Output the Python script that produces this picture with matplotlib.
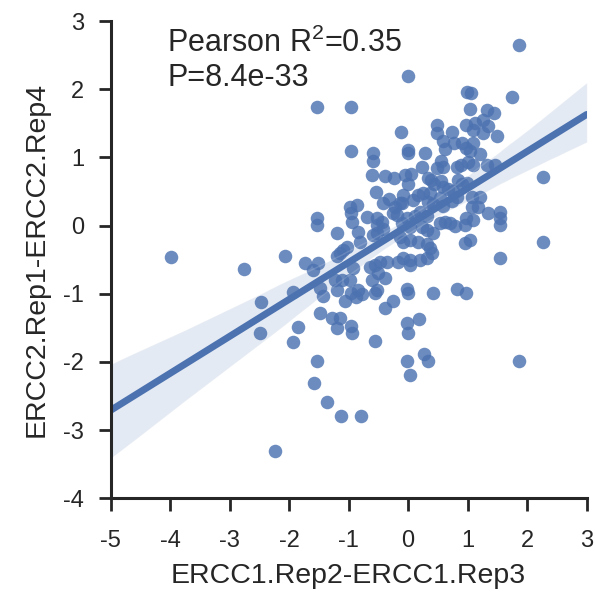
import numpy as np
import matplotlib
matplotlib.use('Agg')
import matplotlib.pyplot as plt
import seaborn as sns

# differences
x_diff = [1.87, 0.00, 0.99, 1.06, 1.75, 1.04, 1.33, 1.45, 0.49, 0.49,
          0.74, 0.98, 1.13, 1.26, 1.35, 1.25, 1.09, 1.50, -0.12, 0.00,
          0.00, 0.29, 0.59, 0.62, 0.77, 0.91, 0.98, 1.04, 1.09, 1.21,
          0.88, 0.82, 1.01, 1.09, 0.56, 0.49, 0.59, 0.24, 0.05, -0.05,
          1.33, 1.46, 2.27, 0.34, 0.39, 0.44, 0.56, 0.84, 0.91, 0.99,
          0.00, 0.59, 0.67, -0.08, -0.10, 0.08, 0.17, 0.25, 0.37, 0.34,
          0.42, 0.54, 0.59, 0.76, 0.82, 0.74, 1.08, 1.21, 1.08, 1.18,
          1.35, 1.55, 1.55, 1.55, 0.98, 0.96, 1.09, 0.54, 0.62, 0.71,
          0.79, 0.20, 0.12, 0.32, -0.02, -0.10, 0.03, 0.24, 0.32, 0.42,
          -0.13, -0.08, 0.03, 0.17, 0.32, 0.37, 0.40, 0.32, 0.20, 0.03,
          0.03, -0.08, 0.96, 1.04, 2.27, 1.55, -0.02, 0.00, 0.42, 0.82,
          0.98, -0.02, 0.00, 0.19, -0.02, 0.03, 0.27, 0.34, 1.87,
          -1.53, -0.96, -0.96, -0.59, -0.59, -0.61, -0.39, -0.24, -0.54, -0.86,
          -0.42, -0.32, -0.22, -1.53, -1.53, -0.96, -0.94, -0.98, -0.69, -0.52,
          -0.44, -0.25, -0.19, -0.13, -1.20, -0.84, -0.81, -1.03, -1.14, -1.20,
          -0.52, -0.59, -0.42, -0.52, -2.07, -1.73, -1.60, -1.52, -1.94, -1.48,
          -1.43, -1.09, -0.93, -1.11, -0.98, -1.23, -1.20, -1.06, -0.96, -0.88,
          -0.84, -0.77, -0.64, -0.56, -0.47, -0.35, -0.17, -0.51, -0.61, -0.39,
          -0.52, -0.56, -0.25, -0.39, -1.48, -1.28, -1.14, -1.20, -0.96, -0.94,
          -1.85, -1.94, -0.56, -1.53, -1.58, -1.36, -1.13, -0.79,
          -3.99, -2.76, -2.47, -2.49, -2.24]
y_diff = [2.65, 2.19, 1.96, 1.94, 1.88, 1.71, 1.69, 1.65, 1.47, 1.36,
          1.37, 1.47, 1.50, 1.55, 1.46, 1.36, 1.40, 1.31, 1.37, 1.11,
          1.06, 1.06, 1.24, 1.12, 1.21, 1.21, 1.14, 1.09, 1.21, 1.05,
          0.89, 0.86, 0.93, 0.89, 0.95, 0.84, 0.86, 0.86, 0.75, 0.74,
          0.89, 0.89, 0.71, 0.70, 0.67, 0.61, 0.65, 0.67, 0.61, 0.62,
          0.61, 0.56, 0.53, 0.45, 0.33, 0.37, 0.45, 0.48, 0.48, 0.34,
          0.31, 0.40, 0.28, 0.51, 0.42, 0.36, 0.42, 0.42, 0.27, 0.27,
          0.18, 0.20, 0.11, 0.01, 0.11, 0.01, 0.08, 0.04, 0.05, 0.04,
          -0.01, 0.20, 0.14, 0.14, 0.11, 0.04, -0.02, -0.02, -0.07, -0.11,
          -0.17, -0.24, -0.21, -0.24, -0.27, -0.33, -0.41, -0.48, -0.51, -0.51,
          -0.58, -0.48, -0.26, -0.21, -0.24, -0.48, -0.93, -0.99, -0.99, -0.93,
          -0.99, -1.43, -1.58, -1.37, -1.99, -2.19, -1.89, -1.99, -1.99,
          1.74, 1.74, 1.09, 1.06, 0.95, 0.74, 0.72, 0.70, 0.49, 0.30,
          0.33, 0.39, 0.27, 0.11, 0.01, 0.18, 0.05, 0.27, 0.12, 0.11,
          0.05, 0.18, 0.15, 0.33, -0.11, -0.10, -0.24, -0.32, -0.41, -0.45,
          -0.11, -0.14, -0.05, 0.01, -0.45, -0.55, -0.65, -0.55, -0.98, -0.92,
          -1.03, -0.36, -0.63, -0.80, -0.80, -0.80, -0.95, -1.10, -0.99, -1.05,
          -0.95, -1.01, -0.61, -0.58, -0.54, -0.54, -0.54, -0.70, -0.80, -0.77,
          -0.95, -0.99, -1.10, -1.21, -1.29, -1.35, -1.35, -1.51, -1.48, -1.58,
          -1.49, -1.71, -1.70, -1.99, -2.31, -2.59, -2.80, -2.80,
          -0.46, -0.64, -1.12, -1.58, -3.31]

x_ticks = [-5, -4, -3, -2, -1, 0, 1, 2, 3]
y_ticks = [-4, -3, -2, -1, 0, 1, 2, 3]
stats_text = 'Pearson R$^2$=0.35\nP=8.4e-33'

sns.set_style('ticks')
plt.rcParams['font.family'] = ['Liberation Sans', 'DejaVu Sans']
plt.rcParams['axes.unicode_minus'] = False
plt.rcParams['mathtext.fontset'] = 'custom'
plt.rcParams['mathtext.rm'] = 'Liberation Sans'
plt.rcParams['mathtext.default'] = 'regular'
blue = '#4C72B0'
dark = '#262626'

fig = plt.figure(figsize=(5.95, 6.01), dpi=100)
ax = fig.add_axes([0.186, 0.171, 0.800, 0.794])
ax.set_xlim(-5, 3)
ax.set_ylim(-4, 3)

sns.regplot(x=np.array(x_diff), y=np.array(y_diff), ax=ax, color=blue,
            truncate=False, seed=1,
            scatter_kws={'s': 95, 'alpha': 0.82, 'linewidths': 0},
            line_kws={'lw': 5})
ax.set_xlim(-5, 3)
ax.set_ylim(-4, 3)

ax.set_xticks(x_ticks)
ax.set_yticks(y_ticks)
ax.tick_params(axis='both', labelsize=17, length=9, width=2, color=dark,
               labelcolor=dark, direction='out')
ax.tick_params(axis='x', pad=14)
ax.tick_params(axis='y', pad=10)
for s in ['left', 'bottom']:
    ax.spines[s].set_linewidth(2.2)
    ax.spines[s].set_color(dark)
sns.despine(ax=ax)

ax.set_xlabel('ERCC1.Rep2-ERCC1.Rep3', fontsize=20.5, color=dark, labelpad=8)
ax.set_ylabel('ERCC2.Rep1-ERCC2.Rep4', fontsize=20.5, color=dark, labelpad=10)
ax.text(-4.05, 2.9, stats_text, fontsize=22, color=dark, va='top',
        linespacing=1.15)

fig.savefig('out.png', dpi=100)
